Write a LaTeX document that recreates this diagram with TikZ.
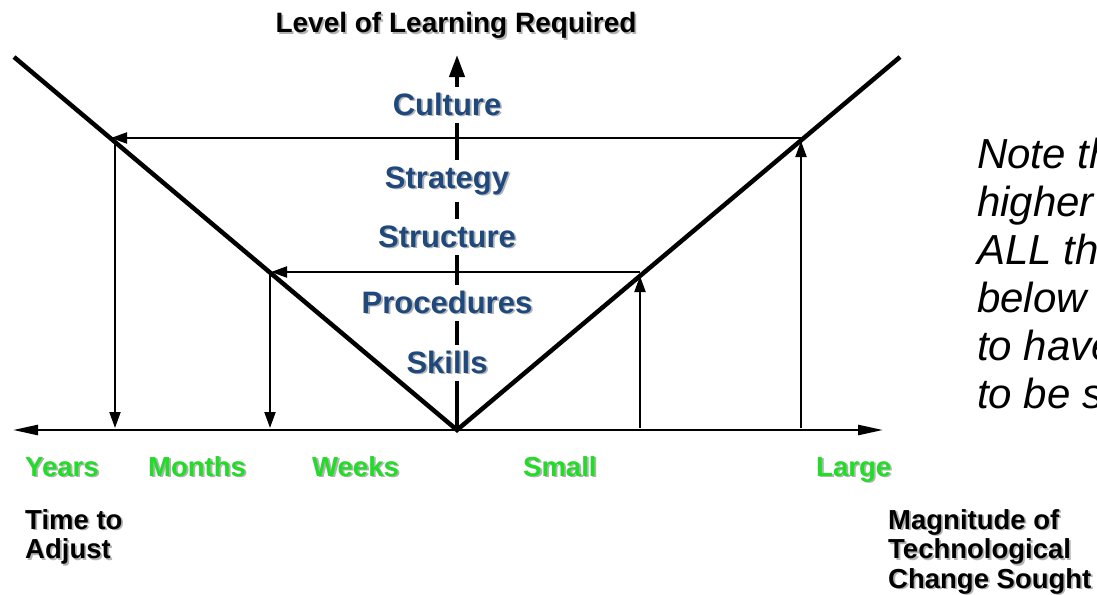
\documentclass[tikz,border=0pt]{standalone}
\usepackage{fontspec}
\setmainfont{Liberation Sans}
\usetikzlibrary{arrows.meta,positioning}

\definecolor{lvlblue}{RGB}{31,73,125}
\definecolor{tickgreen}{RGB}{34,221,40}
\newcommand{\shad}[1]{\leavevmode\rlap{\hspace{1.8pt}\raisebox{-1.8pt}{\color{black!30}#1}}#1}

\begin{document}
\begin{tikzpicture}[x=1pt,y=-1pt,
    vshape/.style={line width=4.5pt},
    guide/.style={line width=2pt,-{Triangle[length=16pt,width=11pt]}},
    lvl/.style={fill=white,text=lvlblue,inner xsep=2pt,inner ysep=6pt,anchor=base,
        font=\fontsize{31}{36}\selectfont\bfseries},
    tick/.style={text=tickgreen,inner sep=0pt,anchor=base west,
        font=\fontsize{27.5}{30}\selectfont\bfseries},
    axname/.style={inner sep=0pt,anchor=north west,align=left,
        font=\fontsize{27.5}{29.5}\selectfont\bfseries}]
    \fill[white] (0,0) rectangle (1097,594);
    \useasboundingbox (0,0) rectangle (1097,594);

    % the V and the two axes
    \coordinate (o) at (457,430);
    \coordinate (tl) at (14,57);
    \coordinate (tr) at (900,57);
    \coordinate (axw) at (13,430);
    \coordinate (axe) at (883,430);
    \coordinate (top) at (457,55);
    \draw[vshape] (tl) -- (o) -- (tr);
    \draw[line width=2.5pt,{Triangle[length=25pt,width=10pt]}-{Triangle[length=25pt,width=10pt]}] (axw) -- (axe);

    % change sought -> learning -> time
    \coordinate (hir) at (801,138);
    \coordinate (hil) at (111,138);
    \coordinate (hiru) at (801,428);
    \coordinate (hirv) at (801,141);
    \coordinate (hilv) at (115,141);
    \coordinate (hild) at (115,428);
    \coordinate (lor) at (640,272);
    \coordinate (lol) at (271,272);
    \coordinate (loru) at (640,428);
    \coordinate (lorv) at (640,276);
    \coordinate (lolv) at (270,274);
    \coordinate (lold) at (270,428);
    \draw[guide] (hiru) -- (hirv);
    \draw[guide] (hir) -- (hil);
    \draw[guide] (hilv) -- (hild);
    \draw[guide] (loru) -- (lorv);
    \draw[guide] (lor) -- (lol);
    \draw[guide] (lolv) -- (lold);

    \draw[line width=4pt,-{Triangle[length=22pt,width=15pt]}] (o) -- (top);

    \node[inner sep=0pt,anchor=base,font=\fontsize{28}{32}\selectfont\bfseries] (title) at (456,33) {\shad{Level of Learning Required}};

    % levels of learning
    \node[lvl] (culture) at (447,115) {\shad{Culture}};
    \node[lvl] (strategy) at (447,188) {\shad{Strategy}};
    \node[lvl] (structure) at (447,247) {\shad{Structure}};
    \node[lvl] (procedures) at (447,313) {\shad{Procedures}};
    \node[lvl] (skills) at (447,373) {\shad{Skills}};

    % scale labels
    \node[tick] (years) at (25,476) {\shad{Years}};
    \node[tick] (months) at (148,476) {\shad{Months}};
    \node[tick] (weeks) at (312,476) {\shad{Weeks}};
    \node[tick] (small) at (523,476) {\shad{Small}};
    \node[tick] (large) at (816,476) {\shad{Large}};

    \node[axname] (timeadj) at (25,509) {\shad{Time to}\\\shad{Adjust}};
    \node[axname] (magnitude) at (888,509) {\shad{Magnitude of}\\\shad{Technological}\\\shad{Change Sought}};

    \node[inner sep=0pt,anchor=north west,align=left,font=\fontsize{42}{48}\selectfont\itshape] (note) at (977,138)
        {Note th\\higher\\ALL th\\below\\to have\\to be s};
\end{tikzpicture}
\end{document}
